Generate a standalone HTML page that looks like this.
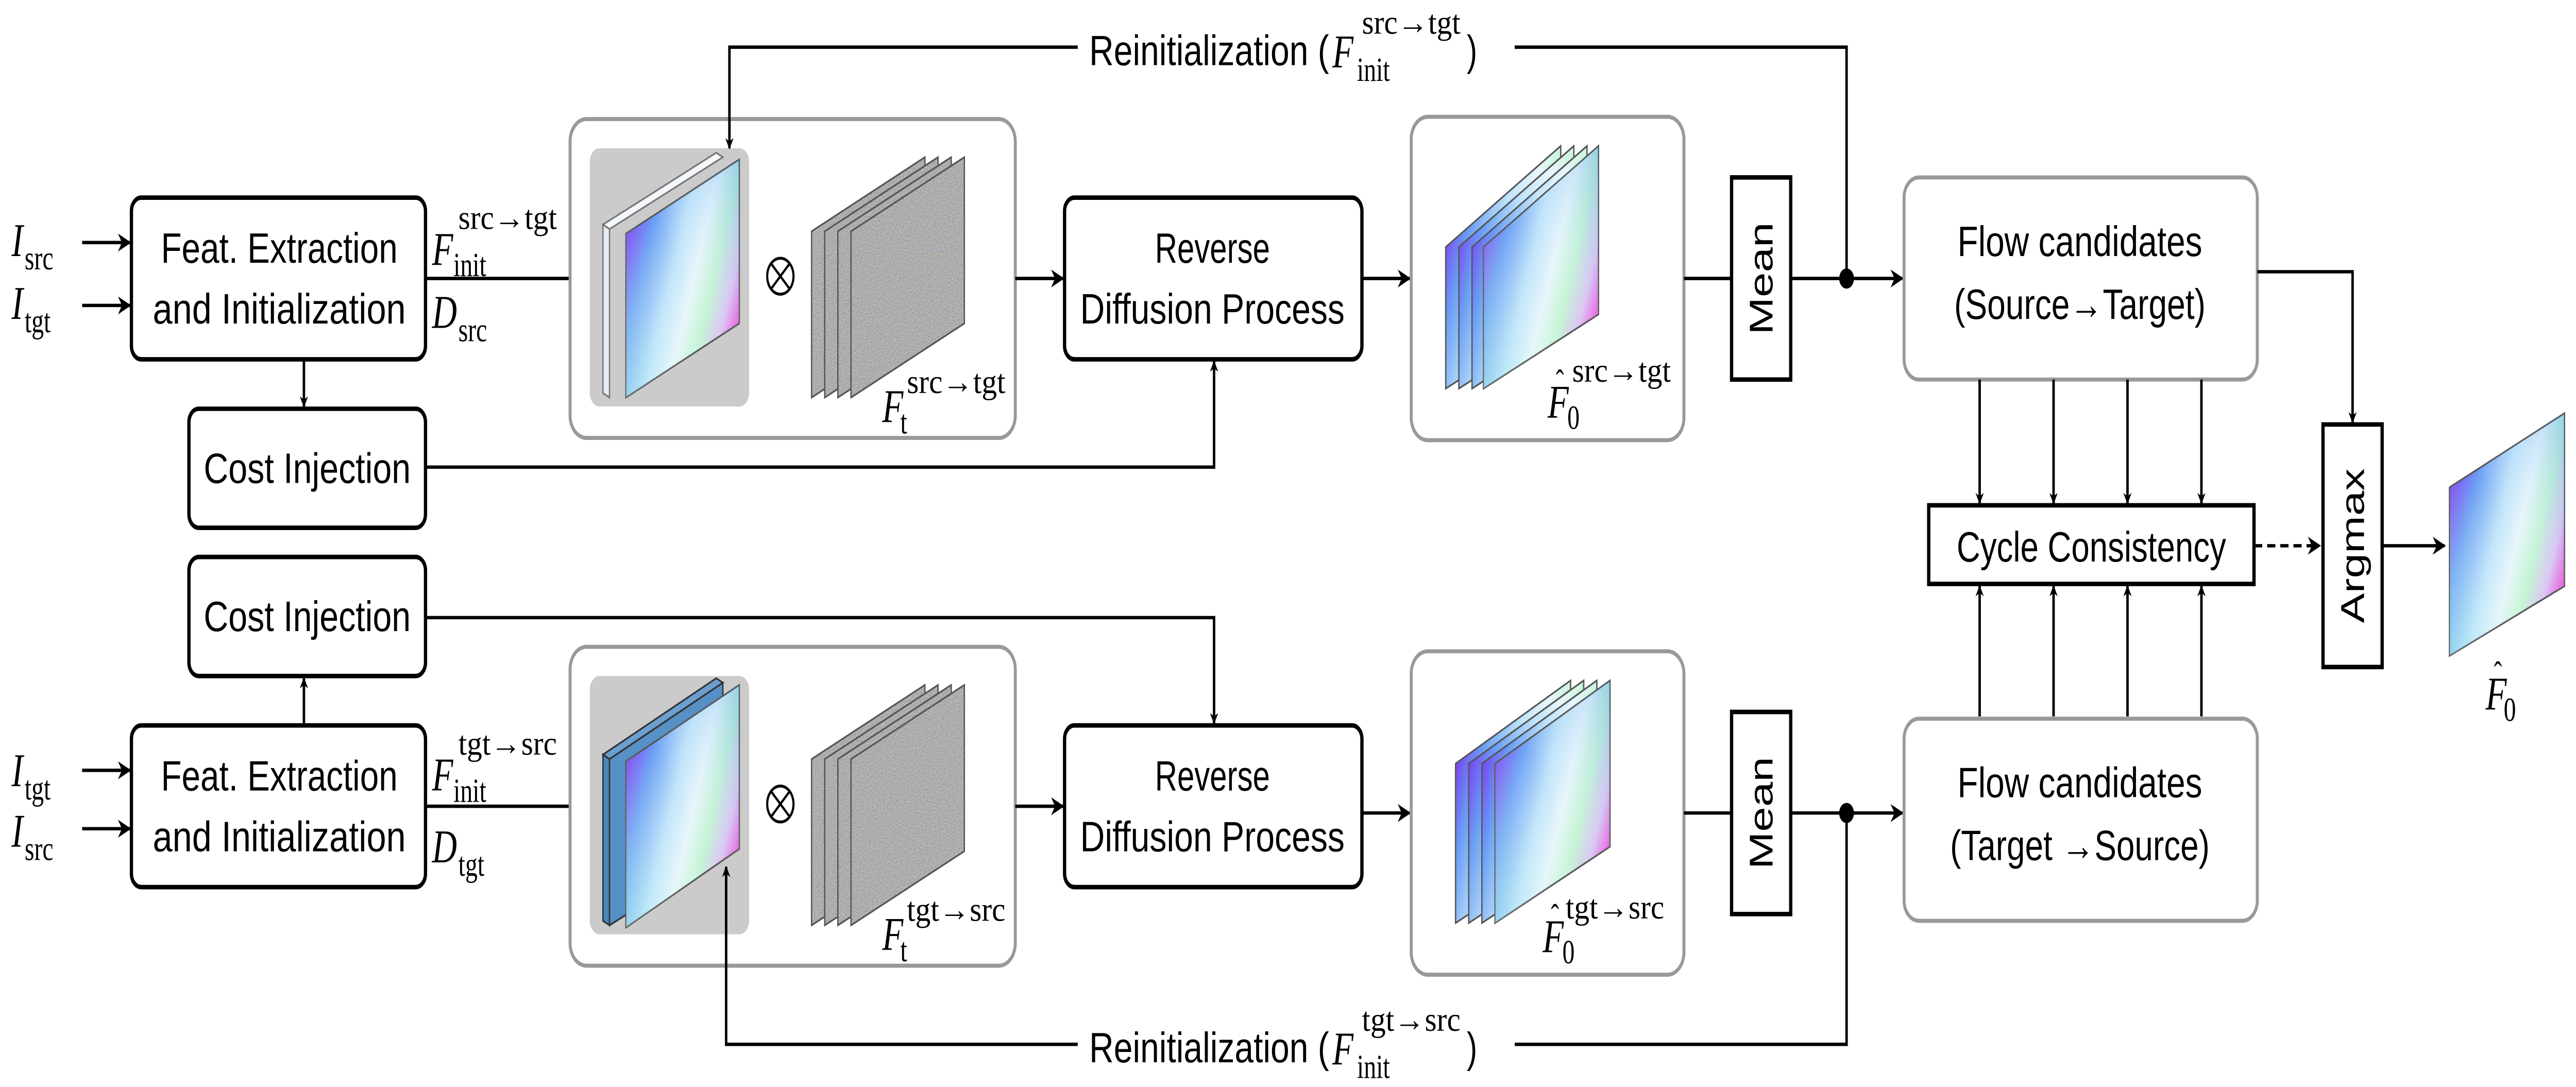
<!DOCTYPE html>
<html><head><meta charset="utf-8"><style>html,body{margin:0;padding:0;background:#fff;width:100%;height:100%;overflow:hidden}svg{display:block;position:fixed;left:0;top:0;width:100vw;height:100vh}</style></head>
<body>
<svg xmlns="http://www.w3.org/2000/svg" viewBox="0 0 1568 484" preserveAspectRatio="none">
<defs>
<marker id="ar" viewBox="0 0 10 10" refX="9" refY="5" markerWidth="5" markerHeight="5" orient="auto-start-reverse" markerUnits="userSpaceOnUse"><path d="M0,0 L10,5 L0,10 L3,5 Z" fill="#000"/></marker>
<marker id="ar2" viewBox="0 0 10 10" refX="9" refY="5" markerWidth="8" markerHeight="8" orient="auto" markerUnits="userSpaceOnUse"><path d="M0,0 L10,5 L0,10 L3,5 Z" fill="#000"/></marker>
<linearGradient id="fl" x1="0" y1="0.25" x2="1" y2="0.75">
<stop offset="0" stop-color="#7a30f0"/><stop offset="0.2" stop-color="#6a9ef4"/><stop offset="0.42" stop-color="#bfe4fa"/><stop offset="0.58" stop-color="#e8f6fb"/><stop offset="0.72" stop-color="#c4f5d4"/><stop offset="0.86" stop-color="#dcc4f4"/><stop offset="1" stop-color="#f040d8"/>
</linearGradient>
<linearGradient id="fl2" x1="0" y1="1" x2="1" y2="0">
<stop offset="0" stop-color="#a0f0e8" stop-opacity="0.4"/><stop offset="0.5" stop-color="#ffffff" stop-opacity="0"/><stop offset="1" stop-color="#3a90f0" stop-opacity="0.35"/>
</linearGradient>
<filter id="nz" x="0" y="0" width="100%" height="100%"><feTurbulence type="fractalNoise" baseFrequency="1.5" numOctaves="1" result="t"/><feColorMatrix type="matrix" values="0.6 0 0 0 0.12  0 0.6 0 0 0.12  0 0 0.6 0 0.12  0 0 0 0 1"/><feComposite in2="SourceAlpha" operator="in"/></filter>
</defs>
<style>
.b{fill:#fff;stroke:#000;stroke-width:2}
.g{fill:#fff;stroke:#999;stroke-width:1.8}
.l{fill:none;stroke:#000;stroke-width:1.5}
.t{font-family:"Liberation Sans",sans-serif;font-size:19px;text-anchor:middle}
.m{font-family:"Liberation Serif",serif;font-style:italic;font-size:21px}
.s{font-family:"Liberation Serif",serif;font-size:15px}
.r{font-family:"Liberation Sans",sans-serif;font-size:20px;text-anchor:middle}
</style>
<!-- ========== TOP ROW ========== -->
<text class="m" x="7" y="114">I</text><text class="s" x="15" y="120">src</text>
<text class="m" x="7" y="142">I</text><text class="s" x="15" y="148">tgt</text>
<line class="l" x1="50" y1="108" x2="79" y2="108" marker-end="url(#ar2)"/>
<line class="l" x1="50" y1="136" x2="79" y2="136" marker-end="url(#ar2)"/>
<rect class="b" x="80" y="88" width="179" height="72" rx="6"/>
<text class="t" x="170" y="117" textLength="144" lengthAdjust="spacingAndGlyphs">Feat. Extraction</text>
<text class="t" x="170" y="144" textLength="154" lengthAdjust="spacingAndGlyphs">and Initialization</text>
<text class="m" x="263" y="118">F</text><text class="s" x="279" y="102" textLength="60" lengthAdjust="spacingAndGlyphs">src→tgt</text><text class="s" x="276" y="123">init</text>
<text class="m" x="263" y="146">D</text><text class="s" x="279" y="152">src</text>
<line class="l" x1="259" y1="124" x2="357" y2="124" marker-end="url(#ar2)"/>
<line class="l" x1="185" y1="160" x2="185" y2="181" stroke-width="1.2" marker-end="url(#ar)"/>
<rect class="b" x="115" y="182" width="144" height="53" rx="6"/>
<text class="t" x="187" y="215" textLength="126" lengthAdjust="spacingAndGlyphs">Cost Injection</text>
<polyline class="l" points="259,208 739,208 739,161" marker-end="url(#ar)"/>

<rect class="g" x="347" y="53" width="271" height="142" rx="10"/>
<rect x="359" y="66" width="97" height="115" rx="6" fill="#cbcbcb"/>
<polygon points="367,100 436,68 440,70 371,102" fill="#f4f7fb" stroke="#777" stroke-width="0.8"/>
<polygon points="367,100 371,102 371,177 367,175" fill="#e4ebf3" stroke="#777" stroke-width="0.8"/>
<polygon points="381,104 450,71 450,144 381,177" fill="url(#fl)" stroke="#555" stroke-width="0.8"/>
<polygon points="381,104 450,71 450,144 381,177" fill="url(#fl2)"/>
<polyline class="l" points="656,21 444,21 444,66" marker-end="url(#ar)" stroke-width="1.3"/>
<circle cx="475" cy="123" r="8" fill="none" stroke="#000" stroke-width="1.3"/>
<line x1="469.5" y1="117.5" x2="480.5" y2="128.5" stroke="#000" stroke-width="1.2"/><line x1="480.5" y1="117.5" x2="469.5" y2="128.5" stroke="#000" stroke-width="1.2"/>
<g stroke="#555" stroke-width="0.8" fill="#8c8c8c">
<polygon points="494,103 563,70 563,144 494,177" filter="url(#nz)"/><polygon points="494,103 563,70 563,144 494,177" fill="none"/>
<polygon points="502,103 571,70 571,144 502,177" filter="url(#nz)"/><polygon points="502,103 571,70 571,144 502,177" fill="none"/>
<polygon points="510,103 579,70 579,144 510,177" filter="url(#nz)"/><polygon points="510,103 579,70 579,144 510,177" fill="none"/>
<polygon points="518,103 587,70 587,144 518,177" filter="url(#nz)"/><polygon points="518,103 587,70 587,144 518,177" fill="none"/>
</g>
<text class="m" x="537" y="188">F</text><text class="s" x="552" y="175" textLength="60" lengthAdjust="spacingAndGlyphs">src→tgt</text><text class="s" x="548" y="193">t</text>
<line class="l" x1="618" y1="124" x2="647" y2="124" marker-end="url(#ar2)"/>
<rect class="b" x="648" y="88" width="181" height="72" rx="6"/>
<text class="t" x="738" y="117" textLength="70" lengthAdjust="spacingAndGlyphs">Reverse</text>
<text class="t" x="738" y="144" textLength="161" lengthAdjust="spacingAndGlyphs">Diffusion Process</text>
<line class="l" x1="829" y1="124" x2="858" y2="124" marker-end="url(#ar2)"/>

<rect class="g" x="859" y="52" width="166" height="144" rx="10"/>
<polygon points="880,110 950,65 950,140 880,173" fill="url(#fl)" stroke="#555" stroke-width="0.8"/>
<polygon points="888,110 958,65 958,140 888,173" fill="url(#fl)" stroke="#555" stroke-width="0.8"/>
<polygon points="896,110 966,65 966,140 896,173" fill="url(#fl)" stroke="#555" stroke-width="0.8"/>
<polygon points="903,110 973,65 973,140 903,173" fill="url(#fl)" stroke="#555" stroke-width="0.8"/>
<polygon points="903,110 973,65 973,140 903,173" fill="url(#fl2)"/>
<text class="m" x="942" y="186">F</text><text class="s" x="947" y="175" font-size="14">ˆ</text><text class="s" x="957" y="170" textLength="60" lengthAdjust="spacingAndGlyphs">src→tgt</text><text class="s" x="954" y="191">0</text>
<line class="l" x1="1025" y1="124" x2="1054" y2="124"/>
<rect class="b" x="1054" y="79" width="36" height="90"/>
<text class="r" transform="translate(1079,124) rotate(-90)">Mean</text>
<line class="l" x1="1090" y1="124" x2="1158" y2="124" marker-end="url(#ar2)"/>
<circle cx="1124" cy="124" r="4.5" fill="#000"/>
<polyline class="l" points="922,21 1124,21 1124,124"/>
<text class="t" x="663" y="29" style="text-anchor:start" textLength="146" lengthAdjust="spacingAndGlyphs">Reinitialization (</text>
<text class="m" x="811" y="30">F</text><text class="s" x="829" y="15" textLength="60" lengthAdjust="spacingAndGlyphs">src→tgt</text><text class="s" x="826" y="36">init</text><text class="t" x="896" y="29">)</text>

<rect class="g" x="1159" y="79" width="215" height="90" rx="9"/>
<text class="t" x="1266" y="114" textLength="149" lengthAdjust="spacingAndGlyphs">Flow candidates</text>
<text class="t" x="1266" y="142" textLength="153" lengthAdjust="spacingAndGlyphs">(Source→Target)</text>
<polyline class="l" points="1374,121 1432,121 1432,188" marker-end="url(#ar)" stroke-width="1.3"/>
<g class="l" stroke-width="1.3">
<line x1="1205" y1="169" x2="1205" y2="224" marker-end="url(#ar)"/>
<line x1="1250" y1="169" x2="1250" y2="224" marker-end="url(#ar)"/>
<line x1="1295" y1="169" x2="1295" y2="224" marker-end="url(#ar)"/>
<line x1="1340" y1="169" x2="1340" y2="224" marker-end="url(#ar)"/>
<line x1="1205" y1="319" x2="1205" y2="261" marker-end="url(#ar)"/>
<line x1="1250" y1="319" x2="1250" y2="261" marker-end="url(#ar)"/>
<line x1="1295" y1="319" x2="1295" y2="261" marker-end="url(#ar)"/>
<line x1="1340" y1="319" x2="1340" y2="261" marker-end="url(#ar)"/>
</g>
<rect class="b" x="1174" y="225" width="198" height="35"/>
<text class="t" x="1273" y="250" textLength="164" lengthAdjust="spacingAndGlyphs">Cycle Consistency</text>
<line class="l" x1="1372" y1="243" x2="1412" y2="243" stroke-dasharray="5,3" marker-end="url(#ar2)"/>
<rect class="b" x="1414" y="189" width="36" height="108"/>
<text class="r" transform="translate(1439,243) rotate(-90)">Argmax</text>
<line class="l" x1="1450" y1="243" x2="1488" y2="243" marker-end="url(#ar2)"/>
<polygon points="1491,217 1561,184 1561,261 1491,292" fill="url(#fl)" stroke="#555" stroke-width="0.8"/>
<polygon points="1491,217 1561,184 1561,261 1491,292" fill="url(#fl2)"/>
<text class="m" x="1513" y="316">F</text><text class="s" x="1518" y="305" font-size="14">ˆ</text><text class="s" x="1524" y="321">0</text>

<!-- ========== BOTTOM ROW ========== -->
<rect class="b" x="115" y="248" width="144" height="53" rx="6"/>
<text class="t" x="187" y="281" textLength="126" lengthAdjust="spacingAndGlyphs">Cost Injection</text>
<line class="l" x1="185" y1="323" x2="185" y2="302" stroke-width="1.2" marker-end="url(#ar)"/>
<polyline class="l" points="259,275 739,275 739,322" marker-end="url(#ar)"/>
<text class="m" x="7" y="350">I</text><text class="s" x="15" y="356">tgt</text>
<text class="m" x="7" y="377">I</text><text class="s" x="15" y="383">src</text>
<line class="l" x1="50" y1="343" x2="79" y2="343" marker-end="url(#ar2)"/>
<line class="l" x1="50" y1="369" x2="79" y2="369" marker-end="url(#ar2)"/>
<rect class="b" x="80" y="323" width="179" height="72" rx="6"/>
<text class="t" x="170" y="352" textLength="144" lengthAdjust="spacingAndGlyphs">Feat. Extraction</text>
<text class="t" x="170" y="379" textLength="154" lengthAdjust="spacingAndGlyphs">and Initialization</text>
<text class="m" x="263" y="352">F</text><text class="s" x="279" y="336" textLength="60" lengthAdjust="spacingAndGlyphs">tgt→src</text><text class="s" x="276" y="357">init</text>
<text class="m" x="263" y="384">D</text><text class="s" x="279" y="390">tgt</text>
<line class="l" x1="259" y1="359" x2="357" y2="359" marker-end="url(#ar2)"/>

<rect class="g" x="347" y="288" width="271" height="142" rx="10"/>
<rect x="359" y="301" width="97" height="115" rx="6" fill="#cbcbcb"/>
<polygon points="367,336 436,302 440,304 371,338" fill="#6a9fd0" stroke="#333" stroke-width="0.8"/>
<polygon points="367,336 371,338 371,412 367,410" fill="#4a86bd" stroke="#333" stroke-width="0.8"/>
<polygon points="371,338 440,304 440,380 371,412" fill="#5590c6" stroke="#333" stroke-width="0.8"/>
<polygon points="381,339 450,305 450,378 381,413" fill="url(#fl)" stroke="#555" stroke-width="0.8"/>
<polygon points="381,339 450,305 450,378 381,413" fill="url(#fl2)"/>
<polyline class="l" points="656,465 442,465 442,386" marker-end="url(#ar)" stroke-width="1.3"/>
<circle cx="475" cy="358" r="8" fill="none" stroke="#000" stroke-width="1.3"/>
<line x1="469.5" y1="352.5" x2="480.5" y2="363.5" stroke="#000" stroke-width="1.2"/><line x1="480.5" y1="352.5" x2="469.5" y2="363.5" stroke="#000" stroke-width="1.2"/>
<g stroke="#555" stroke-width="0.8" fill="#8c8c8c">
<polygon points="494,338 563,305 563,379 494,412" filter="url(#nz)"/><polygon points="494,338 563,305 563,379 494,412" fill="none"/>
<polygon points="502,338 571,305 571,379 502,412" filter="url(#nz)"/><polygon points="502,338 571,305 571,379 502,412" fill="none"/>
<polygon points="510,338 579,305 579,379 510,412" filter="url(#nz)"/><polygon points="510,338 579,305 579,379 510,412" fill="none"/>
<polygon points="518,338 587,305 587,379 518,412" filter="url(#nz)"/><polygon points="518,338 587,305 587,379 518,412" fill="none"/>
</g>
<text class="m" x="537" y="423">F</text><text class="s" x="552" y="410" textLength="60" lengthAdjust="spacingAndGlyphs">tgt→src</text><text class="s" x="548" y="428">t</text>
<line class="l" x1="618" y1="359" x2="647" y2="359" marker-end="url(#ar2)"/>
<rect class="b" x="648" y="323" width="181" height="72" rx="6"/>
<text class="t" x="738" y="352" textLength="70" lengthAdjust="spacingAndGlyphs">Reverse</text>
<text class="t" x="738" y="379" textLength="161" lengthAdjust="spacingAndGlyphs">Diffusion Process</text>
<line class="l" x1="829" y1="362" x2="858" y2="362" marker-end="url(#ar2)"/>

<rect class="g" x="859" y="290" width="166" height="144" rx="10"/>
<polygon points="886,340 956,303 956,377 886,411" fill="url(#fl)" stroke="#555" stroke-width="0.8"/>
<polygon points="894,340 964,303 964,377 894,411" fill="url(#fl)" stroke="#555" stroke-width="0.8"/>
<polygon points="902,340 972,303 972,377 902,411" fill="url(#fl)" stroke="#555" stroke-width="0.8"/>
<polygon points="910,340 980,303 980,377 910,411" fill="url(#fl)" stroke="#555" stroke-width="0.8"/>
<polygon points="910,340 980,303 980,377 910,411" fill="url(#fl2)"/>
<text class="m" x="939" y="424">F</text><text class="s" x="944" y="413" font-size="14">ˆ</text><text class="s" x="953" y="409" textLength="60" lengthAdjust="spacingAndGlyphs">tgt→src</text><text class="s" x="951" y="429">0</text>
<line class="l" x1="1025" y1="362" x2="1054" y2="362"/>
<rect class="b" x="1054" y="317" width="36" height="90"/>
<text class="r" transform="translate(1079,362) rotate(-90)">Mean</text>
<line class="l" x1="1090" y1="362" x2="1158" y2="362" marker-end="url(#ar2)"/>
<circle cx="1124" cy="362" r="4.5" fill="#000"/>
<polyline class="l" points="922,465 1124,465 1124,362"/>
<text class="t" x="663" y="473" style="text-anchor:start" textLength="146" lengthAdjust="spacingAndGlyphs">Reinitialization (</text>
<text class="m" x="811" y="474">F</text><text class="s" x="829" y="459" textLength="60" lengthAdjust="spacingAndGlyphs">tgt→src</text><text class="s" x="826" y="480">init</text><text class="t" x="896" y="473">)</text>

<rect class="g" x="1159" y="320" width="215" height="90" rx="9"/>
<text class="t" x="1266" y="355" textLength="149" lengthAdjust="spacingAndGlyphs">Flow candidates</text>
<text class="t" x="1266" y="383" textLength="158" lengthAdjust="spacingAndGlyphs">(Target →Source)</text>
</svg>
</body></html>
